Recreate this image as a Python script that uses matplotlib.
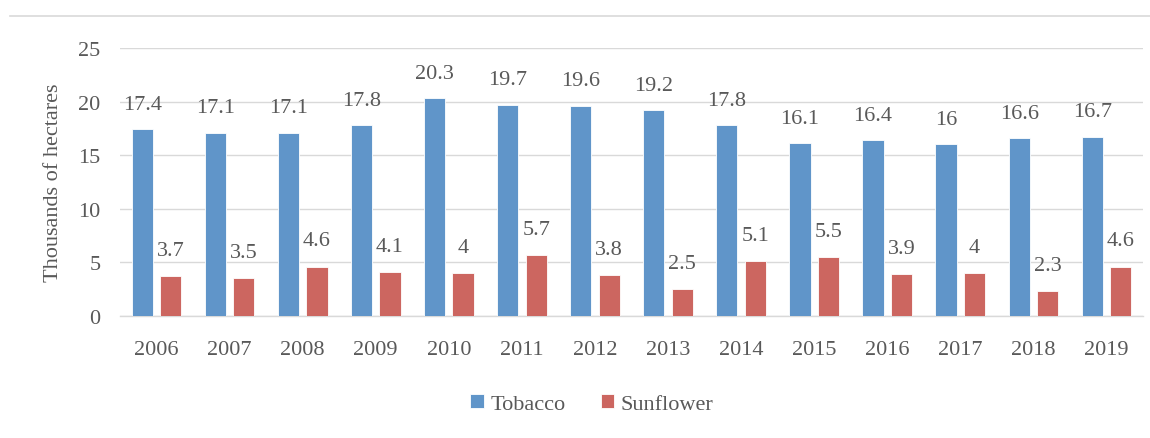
import matplotlib
matplotlib.use("Agg")
import matplotlib.pyplot as plt
from matplotlib.lines import Line2D
import numpy as np

years = ["2006", "2007", "2008", "2009", "2010", "2011", "2012",
         "2013", "2014", "2015", "2016", "2017", "2018", "2019"]
tobacco = [17.4, 17.1, 17.1, 17.8, 20.3, 19.7, 19.6, 19.2, 17.8, 16.1, 16.4, 16.0, 16.6, 16.7]
sunflower = [3.7, 3.5, 4.6, 4.1, 4.0, 5.7, 3.8, 2.5, 5.1, 5.5, 3.9, 4.0, 2.3, 4.6]
tobacco_labels = ["17.4", "17.1", "17.1", "17.8", "20.3", "19.7", "19.6", "19.2", "17.8", "16.1", "16.4", "16", "16.6", "16.7"]
sunflower_labels = ["3.7", "3.5", "4.6", "4.1", "4", "5.7", "3.8", "2.5", "5.1", "5.5", "3.9", "4", "2.3", "4.6"]
series_names = ["Tobacco", "Sunflower"]
y_ticks = [0, 5, 10, 15, 20, 25]

plt.rcParams['font.family'] = ['Liberation Serif', 'DejaVu Serif']
TXT = "#595959"
BLUE = "#6095C9"
RED = "#CC6660"
GRID = "#D9D9D9"

fig = plt.figure(figsize=(11.5, 4.39), dpi=100)
W, H = 1150, 439
ax = fig.add_axes([120 / W, (H - 317) / H, (1143 - 120) / W, (317 - 49) / H])

x = np.arange(len(years))
bw = 0.29
off = 0.195
b1 = ax.bar(x - off, tobacco, bw, color=BLUE, edgecolor="white", linewidth=0.6, label=series_names[0], zorder=3)
b2 = ax.bar(x + off, sunflower, bw, color=RED, edgecolor="white", linewidth=0.6, label=series_names[1], zorder=3)

for rect, lab in zip(b1, tobacco_labels):
    ax.annotate(lab, (rect.get_x() + rect.get_width() / 2, rect.get_height()),
                xytext=(0, 18), textcoords="offset points", ha="center", va="center",
                fontsize=16, color=TXT)
for rect, lab in zip(b2, sunflower_labels):
    ax.annotate(lab, (rect.get_x() + rect.get_width() / 2, rect.get_height()),
                xytext=(0, 18.5), textcoords="offset points", ha="center", va="center",
                fontsize=16, color=TXT)

ax.set_xlim(-0.5, len(years) - 0.5)
ax.set_ylim(0, 25)
ax.set_yticks(y_ticks)
ax.set_xticks(x)
ax.set_xticklabels(years)
ax.tick_params(axis="both", length=0, labelsize=16, labelcolor=TXT)
ax.tick_params(axis="y", pad=14)
ax.tick_params(axis="x", pad=17)
ax.grid(axis="y", color=GRID, linewidth=1, zorder=0)
for s in ["top", "right", "left"]:
    ax.spines[s].set_visible(False)
ax.spines["bottom"].set_color(GRID)
ax.spines["bottom"].set_linewidth(1)

fig.text(54 / W, 1 - 183 / H, "Thousands of hectares", rotation=90,
         ha="center", va="center", fontsize=16, color=TXT)

fig.add_artist(Line2D([10 / W, 1.0], [1 - 16.5 / H, 1 - 16.5 / H],
                      color=GRID, linewidth=1.2, transform=fig.transFigure))

leg = fig.legend(handles=[b1, b2], loc="center", bbox_to_anchor=(592 / W, 1 - 405 / H),
                 ncol=2, frameon=False, fontsize=16, handlelength=0.6, handleheight=0.6,
                 handletextpad=0.3, columnspacing=1.6)
for t in leg.get_texts():
    t.set_color(TXT)

fig.savefig("out.png", dpi=100, facecolor="white")
